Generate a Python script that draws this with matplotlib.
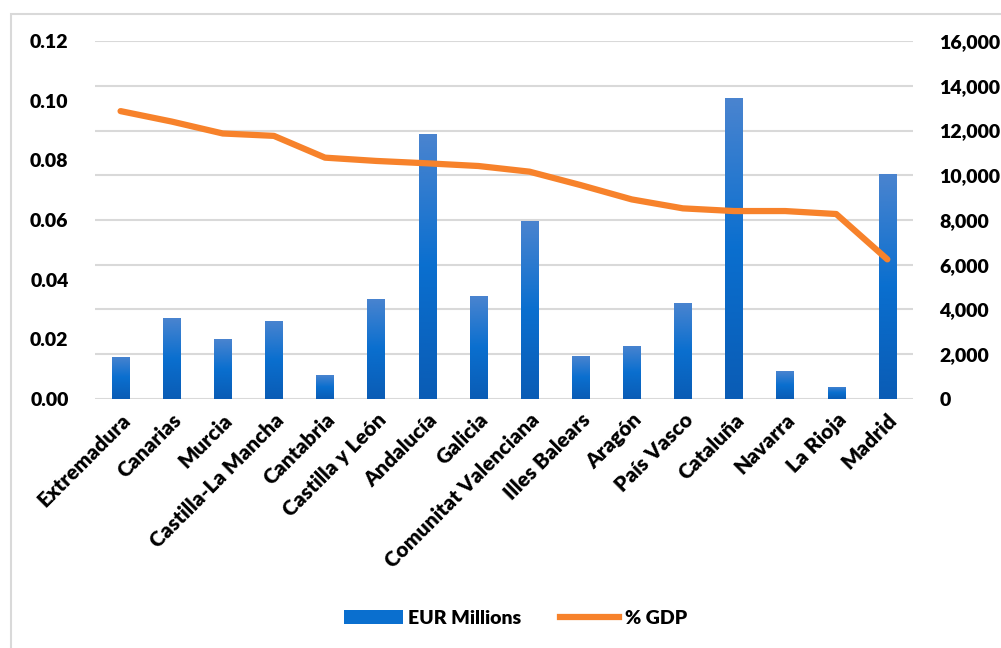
import numpy as np
import matplotlib.pyplot as plt
from matplotlib.patches import Patch, Rectangle
from matplotlib.lines import Line2D
from matplotlib.colors import LinearSegmentedColormap

regions = ['Extremadura', 'Canarias', 'Murcia', 'Castilla-La Mancha', 'Cantabria',
           'Castilla y León', 'Andalucía', 'Galicia', 'Comunitat Valenciana', 'Illes Balears',
           'Aragón', 'País Vasco', 'Cataluña', 'Navarra', 'La Rioja', 'Madrid']
eur_millions = [1880, 3620, 2680, 3490, 1070, 4470, 11830, 4600, 7950, 1920,
                2370, 4290, 13450, 1250, 540, 10040]
pct_gdp = [0.0965, 0.093, 0.089, 0.0882, 0.0809, 0.0798, 0.079, 0.0781, 0.0762, 0.0717,
           0.0669, 0.0639, 0.063, 0.063, 0.062, 0.0468]

plt.rcParams['font.family'] = ['Lato', 'DejaVu Sans']
plt.rcParams['font.weight'] = 'heavy'

fig = plt.figure(figsize=(10.01, 6.48), dpi=100)
# outer chart frame
fig.patches.append(Rectangle((11 / 1001, -0.1), 1.2, 0.1 + (648 - 14) / 648,
                             transform=fig.transFigure, fill=False,
                             edgecolor='#D9D9D9', linewidth=1.5))

ax = fig.add_axes([0.0949, 0.3843, 0.8171, 0.5524])
ax2 = ax.twinx()
ax.set_zorder(ax2.get_zorder() + 1)
ax.patch.set_visible(False)

x = np.arange(len(regions))
bars = ax2.bar(x, eur_millions, width=0.34, color='#0A6FCF', zorder=2)

# vertical gradient on each bar
cmap = LinearSegmentedColormap.from_list('blu', ['#0A5CB5', '#0A6FCF', '#4A84CF'])
grad = np.linspace(0, 1, 256).reshape(-1, 1)
for b in bars:
    bx, bw, bh = b.get_x(), b.get_width(), b.get_height()
    im = ax2.imshow(grad, extent=(bx, bx + bw, 0, bh), origin='lower', cmap=cmap,
                    aspect='auto', zorder=3)
    im.set_clip_path(b)

ax.plot(x, pct_gdp, color='#F7822B', linewidth=4.5, solid_capstyle='round',
        solid_joinstyle='round', zorder=5)

ax.set_xlim(-0.5, len(regions) - 0.5)
ax.set_ylim(0, 0.12)
ax.set_yticks(np.arange(0, 0.121, 0.02))
ax.set_yticklabels(['%.2f' % v for v in np.arange(0, 0.121, 0.02)])
ax2.set_ylim(0, 16000)
ax2.set_yticks(np.arange(0, 16001, 2000))
ax2.set_yticklabels(['{:,}'.format(v) for v in range(0, 16001, 2000)])

for a in (ax, ax2):
    for s in a.spines.values():
        s.set_visible(False)
    a.tick_params(length=0, labelsize=14)
ax.tick_params(axis='y', pad=19)
ax2.tick_params(axis='y', pad=19)
ax2.yaxis.grid(True, color='#D9D9D9', linewidth=1.5, zorder=0)
ax2.set_axisbelow(True)

ax.set_xticks(x)
ax.set_xticklabels(regions, rotation=45, ha='right', rotation_mode='anchor', fontsize=15)
ax.tick_params(axis='x', pad=8)

handles = [Patch(facecolor='#0A6FCF', label='EUR Millions'),
           Line2D([], [], color='#F7822B', linewidth=4.5, label='% GDP')]
fig.legend(handles=handles, loc='center', bbox_to_anchor=(0.515, 0.046), ncol=2,
           frameon=False, fontsize=14, handlelength=3.0, handletextpad=0.3,
           columnspacing=2.0)

fig.savefig('out.png', dpi=100)
